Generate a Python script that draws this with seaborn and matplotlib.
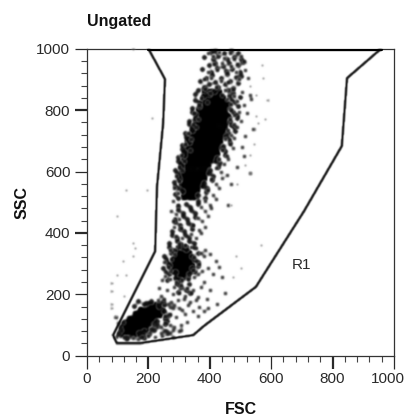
import matplotlib
matplotlib.use("Agg")
import matplotlib.pyplot as plt
from matplotlib.transforms import ScaledTranslation
import numpy as np
import seaborn as sns

sns.set_theme(style="white")
plt.rcParams["font.family"] = ["Liberation Sans", "DejaVu Sans"]

# gate R1 outline
gate_fsc = [200, 254, 248, 228, 222, 85, 97, 173, 346, 381, 550, 707, 830, 847, 958]
gate_ssc = [1000, 901, 757, 550, 340, 67, 41, 41, 67, 97, 224, 471, 683, 904, 1000]
top_fsc = [200, 958]
top_ssc = [1000, 1000]

# dense part of the clouds, one row per line
core_fsc = [385, 405, 428,
            380, 400, 420, 440,
            375, 395, 415, 435, 455,
            365, 385, 405, 425, 445,
            360, 380, 400, 420, 440, 455,
            355, 375, 395, 415, 435, 450,
            345, 365, 385, 405, 425, 445,
            340, 360, 380, 400, 420, 440,
            330, 350, 370, 390, 410, 430,
            325, 345, 365, 385, 405, 425,
            320, 340, 360, 380, 400, 420,
            315, 335, 355, 375, 395, 410,
            310, 330, 350, 370, 390,
            310, 325, 345, 365, 385,
            305, 320, 340, 360, 378,
            310, 330, 350, 368,
            315, 335, 355,
            315, 335, 350,
            300, 318,
            295, 312, 328,
            285, 300, 318, 335,
            275, 290, 305, 322, 338,
            285, 300, 318, 332,
            295, 312,
            205, 225,
            175, 190, 210, 225, 240,
            160, 175, 190, 205, 220, 235,
            140, 155, 170, 185, 200, 215,
            125, 140, 155, 170, 185, 200,
            115, 130, 145, 160, 175, 190,
            110, 125, 140, 155, 170]
core_ssc = [862, 858, 860,
            840, 840, 840, 840,
            820, 820, 820, 820, 820,
            800, 800, 800, 800, 800,
            780, 780, 780, 780, 780, 780,
            760, 760, 760, 760, 760, 760,
            740, 740, 740, 740, 740, 740,
            720, 720, 720, 720, 720, 720,
            700, 700, 700, 700, 700, 700,
            680, 680, 680, 680, 680, 680,
            660, 660, 660, 660, 660, 660,
            640, 640, 640, 640, 640, 640,
            620, 620, 620, 620, 620,
            600, 600, 600, 600, 600,
            580, 580, 580, 580, 580,
            560, 560, 560, 560,
            540, 540, 540,
            520, 520, 520,
            352, 350,
            335, 335, 335,
            315, 315, 315, 315,
            296, 296, 296, 296, 296,
            278, 278, 278, 278,
            260, 260,
            165, 165,
            150, 150, 150, 150, 150,
            135, 135, 135, 135, 135, 135,
            120, 120, 120, 120, 120, 120,
            105, 105, 105, 105, 105, 105,
            90, 90, 90, 90, 90, 90,
            75, 75, 75, 75, 75]

# medium density belt around the clouds
mid_fsc = [403, 418, 447, 468, 493,
           382, 412, 428, 457, 478, 503,
           397, 417, 443, 462, 492, 507,
           373, 404, 422, 453, 472, 498,
           388, 407, 438, 457, 484, 502,
           367, 398, 417, 448, 467, 493,
           363, 382, 413, 427, 458, 477,
           352, 378, 397, 463, 475, 498,
           353, 365, 468, 479,
           342, 365, 467, 491,
           343, 352, 475, 487,
           332, 353, 467, 488,
           333, 345, 468, 479,
           319, 341, 459, 481,
           321, 329, 453, 462,
           309, 331, 442, 465,
           308, 315, 439, 449,
           297, 315, 425, 448,
           298, 305, 421, 432,
           287, 305, 402, 428,
           293, 295, 398, 412,
           282, 301, 382, 408,
           288, 297, 378, 392,
           287, 308, 362, 388,
           298, 362, 383,
           297, 323, 337, 363,
           298, 312, 338, 352,
           287, 313, 327, 353,
           288, 302, 328, 342,
           277, 303, 317, 343,
           278, 292, 318, 332,
           267, 293, 307, 333, 347,
           268, 282, 308, 322, 348,
           252, 273, 342, 363,
           258, 262, 353, 362,
           247, 268, 342, 363,
           258, 267, 288, 332, 353,
           262, 288, 302, 328,
           293, 307, 333,
           297, 323, 337,
           167, 193, 207, 233, 247,
           153, 187, 233, 252,
           127, 173, 187,
           168, 182, 203,
           187, 208, 217,
           218, 232, 253,
           227, 253, 262,
           253, 267,
           252]
mid_ssc = [988, 993, 985, 991, 986,
           972, 965, 976, 968, 974, 966,
           947, 955, 944, 952, 948, 957,
           934, 925, 936, 926, 933, 924,
           906, 914, 903, 916, 907, 912,
           894, 885, 892, 884, 896, 887,
           866, 874, 863, 876, 867, 873,
           854, 845, 853, 846, 855, 844,
           834, 826, 835, 825,
           807, 814, 805, 813,
           793, 786, 795, 784,
           766, 775, 764, 773,
           754, 745, 753, 746,
           727, 736, 725, 733,
           714, 705, 715, 706,
           686, 695, 684, 693,
           674, 665, 676, 667,
           646, 655, 644, 653,
           634, 625, 633, 627,
           606, 615, 605, 614,
           594, 585, 596, 586,
           566, 575, 564, 573,
           554, 545, 553, 546,
           526, 535, 524, 533,
           514, 505, 513,
           486, 494, 485, 493,
           474, 465, 476, 466,
           446, 454, 445, 453,
           434, 425, 433, 426,
           406, 414, 405, 413,
           394, 385, 393, 386,
           366, 375, 364, 373, 367,
           354, 345, 353, 346, 354,
           326, 334, 325, 333,
           314, 305, 313, 306,
           286, 294, 285, 293,
           274, 265, 273, 266, 274,
           246, 254, 245, 253,
           234, 225, 233,
           206, 214, 205,
           178, 172, 179, 171, 177,
           162, 168, 161, 167,
           57, 63, 58,
           73, 67, 72,
           82, 88, 83,
           103, 97, 102,
           112, 118, 113,
           127, 133,
           147]

# speckle around the clouds
speck_fsc = [395, 410, 430, 445, 465, 480, 500, 415, 440, 470, 490, 510, 395, 425, 455, 485, 515,
             380, 405, 435, 460, 495, 525, 385, 420, 450, 475, 505, 370, 400, 440, 480, 530,
             365, 390, 455, 470, 490, 510, 535, 350, 360, 470, 480, 495, 520, 345, 355, 465, 478, 500, 540,
             330, 340, 458, 470, 490, 515, 320, 335, 450, 465, 480, 505, 305, 315, 440, 455, 475, 510,
             300, 310, 430, 445, 460, 490, 290, 300, 420, 435, 455, 530, 285, 295, 405, 420, 440, 470,
             280, 295, 395, 410, 430, 275, 290, 385, 400, 420, 460, 280, 300, 370, 385, 405,
             285, 305, 360, 375, 395, 290, 310, 345, 365, 385, 300, 320, 340, 355, 370,
             270, 285, 300, 320, 340, 355, 370, 385, 250, 265, 275, 350, 365, 380, 400, 420,
             255, 270, 345, 360, 375, 395, 430, 245, 270, 290, 310, 330, 350, 380, 410, 440,
             235, 260, 285, 305, 325, 345, 370, 240, 280, 300, 320, 340, 360, 400, 450,
             230, 250, 275, 295, 315, 335, 355, 390, 270, 285, 300, 330, 365, 395, 425,
             250, 265, 280, 310, 345, 380, 255, 270, 290, 320, 360, 250, 265, 280, 300,
             255, 270, 285, 305, 325, 245, 262, 280, 240, 255, 270, 305,
             95, 100, 108, 118, 105, 112, 100, 120, 130, 95, 100, 135, 150, 165, 180, 200, 220, 240, 262]
speck_ssc = [985, 975, 990, 970, 985, 965, 975, 950, 955, 945, 950, 960, 925, 930, 920, 925, 930,
             900, 905, 895, 890, 900, 905, 870, 875, 865, 870, 860, 840, 855, 850, 845, 850,
             815, 825, 835, 820, 830, 815, 835, 790, 770, 800, 785, 795, 790, 755, 745, 770, 755, 765, 740,
             725, 705, 735, 720, 745, 715, 690, 670, 705, 690, 710, 680, 655, 635, 670, 650, 675, 650,
             615, 605, 640, 625, 640, 615, 585, 570, 610, 600, 590, 595, 545, 530, 575, 560, 580, 560,
             505, 490, 540, 525, 545, 470, 460, 505, 490, 510, 490, 440, 445, 485, 470, 480,
             420, 415, 450, 440, 455, 390, 385, 425, 410, 420, 365, 360, 395, 385, 400,
             345, 330, 355, 360, 355, 350, 335, 345, 305, 290, 315, 320, 300, 325, 330, 310,
             260, 275, 280, 265, 275, 285, 290, 245, 250, 240, 245, 250, 255, 240, 265, 255,
             220, 215, 225, 230, 220, 215, 225, 195, 200, 205, 195, 205, 190, 215, 205,
             180, 185, 175, 180, 185, 175, 180, 185, 160, 165, 155, 165, 160, 155, 170,
             165, 170, 155, 150, 145, 145, 130, 135, 125, 135, 130, 80, 75, 85, 80,
             105, 100, 95, 100, 110, 65, 70, 62, 95, 85, 75, 85,
             125, 105, 95, 110, 75, 85, 70, 60, 55, 60, 70, 60, 58, 55, 60, 65, 60, 75, 80]

# single stray events
stray_fsc = [97, 127, 195, 211, 150, 150, 155, 117, 150, 97, 127, 81, 81, 122, 80, 80, 92,
             570, 573, 586, 551, 551, 580, 558, 530, 530, 490, 567, 485, 475, 500, 470, 545, 530, 515]
stray_ssc = [454, 540, 540, 774, 1000, 367, 350, 308, 325, 263, 263, 237, 210, 195, 170, 155, 130,
             947, 903, 833, 850, 782, 770, 758, 655, 595, 560, 360, 324, 257, 285, 490, 690, 880, 620]

x_ticks = [0, 200, 400, 600, 800, 1000]
y_ticks = [0, 200, 400, 600, 800, 1000]
minor_ticks = [40, 80, 120, 160, 240, 280, 320, 360, 440, 480, 520, 560,
               640, 680, 720, 760, 840, 880, 920, 960]

ink = "#2a2a2a"


def soften(img, dpi):
    # small 1-2-1 blur, the source is a scanned print
    pad = 3
    out = np.pad(img, ((pad, pad), (pad, pad), (0, 0)))
    for axis in (0, 1):
        out = (np.roll(out, 1, axis) + 2 * out + np.roll(out, -1, axis)) / 4
    return out, -pad, -pad


fig, ax = plt.subplots(figsize=(4.08, 4.17), dpi=100)
fig.subplots_adjust(left=87 / 408, right=394 / 408, top=1 - 48.7 / 417, bottom=1 - 355.7 / 417)

sns.scatterplot(x=core_fsc, y=core_ssc, ax=ax, s=42, color="#000000", linewidth=0, zorder=2)
sns.scatterplot(x=mid_fsc, y=mid_ssc, ax=ax, s=17, color="#0a0a0a", alpha=0.9, linewidth=0, zorder=2)
sns.scatterplot(x=speck_fsc, y=speck_ssc, ax=ax, s=10, color="#1a1a1a", alpha=0.85, linewidth=0, zorder=3)
sns.scatterplot(x=stray_fsc, y=stray_ssc, ax=ax, s=4, color="#707070", linewidth=0, zorder=3)
for coll in ax.collections:
    coll.set_agg_filter(soften)
sns.lineplot(x=gate_fsc, y=gate_ssc, ax=ax, sort=False, estimator=None, color="#111111", lw=1.9, zorder=4)
sns.lineplot(x=top_fsc, y=top_ssc, ax=ax, sort=False, estimator=None, color="#000000", lw=2.4, zorder=4)
ax.lines[0].set_agg_filter(soften)

ax.set_xlim(0, 1000)
ax.set_ylim(0, 1000)
ax.set_xticks(x_ticks)
ax.set_yticks(y_ticks)
ax.set_xticks(minor_ticks, minor=True)
ax.set_yticks(minor_ticks, minor=True)
ax.tick_params(which="major", length=9, width=0.9, color=ink, labelsize=11, labelcolor=ink, pad=3, bottom=True, left=True)
ax.tick_params(which="minor", length=4.5, width=0.8, color="#444444", bottom=True, left=True)
for axis in (ax.xaxis, ax.yaxis):
    for tick, val in zip(axis.get_major_ticks(), x_ticks):
        if val in (400, 800) or (axis is ax.xaxis and val == 200):
            tick.tick1line.set_markeredgewidth(1.6)
            tick.tick1line.set_color("#000000")
for side in ax.spines.values():
    side.set_linewidth(0.9)
    side.set_color("#333333")

# last x label sits a little to the left so it stays on the page
last = ax.get_xticklabels()[-1]
last.set_transform(last.get_transform() + ScaledTranslation(-6 / 100, 0, fig.dpi_scale_trans))

ax.set_xlabel("FSC", fontsize=11.5, fontweight="bold", color="#111111", labelpad=11)
ax.set_ylabel("SSC", fontsize=11.5, fontweight="bold", color="#111111", labelpad=5)
ax.text(0, 1.09, "Ungated", transform=ax.transAxes, fontsize=11.5, fontweight="bold", color="#111111", va="center")
ax.text(700, 297, "R1", fontsize=11, color=ink, ha="center", va="center")

fig.savefig("out.png", dpi=100)
